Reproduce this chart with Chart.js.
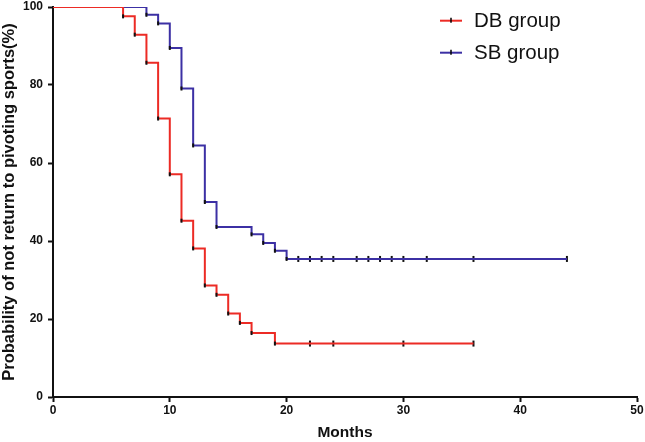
<!DOCTYPE html>
<html>
<head>
<meta charset="utf-8">
<script src="https://cdn.jsdelivr.net/npm/chart.js@4.4.1/dist/chart.umd.min.js"></script>
<style>
  html,body{margin:0;padding:0;background:#fff;}
  #wrap{width:645px;height:442px;position:relative;}
</style>
</head>
<body>
<div id="wrap"><canvas id="kmChart" width="645" height="442"></canvas></div>
<script>
// Kaplan-Meier data (months, % not returned)
const dbTimes  = [0, 6, 7, 8, 9, 10, 11, 12, 13, 14, 15, 16, 17, 19, 36];
const dbSurv   = [100, 97.6, 92.9, 85.7, 71.4, 57.1, 45.2, 38.1, 28.6, 26.2, 21.4, 19.0, 16.4, 13.7, 13.7];
const dbCensor = [22, 24, 30, 36];

const sbTimes  = [0, 8, 9, 10, 11, 12, 13, 14, 17, 18, 19, 20, 44];
const sbSurv   = [100, 98.0, 95.8, 89.5, 79.1, 64.5, 50.0, 43.6, 41.7, 39.5, 37.5, 35.4, 35.4];
const sbCensor = [21, 22, 23, 24, 26, 27, 28, 29, 30, 32, 36, 44];

const xTicks = [0, 10, 20, 30, 40, 50];
const yTicks = [0, 20, 40, 60, 80, 100];
const groupNames = ['DB group', 'SB group'];

const RED = '#ec2b25', BLUE = '#3c30a4';

function pts(times, vals){ return times.map((t,i)=>({x:t, y:vals[i]})); }
function censorPts(cens, times, vals){
  // censored subject sits on the current level of the curve
  return cens.map(c=>{
    let v = vals[0];
    for(let i=0;i<times.length;i++){ if(times[i]<=c) v = vals[i]; }
    return {x:c, y:v};
  });
}
function stepRadius(n){ return ctx => (ctx.dataIndex===0 || ctx.dataIndex===n-1) ? 0 : 2; }

const tickFont = {family:"'Liberation Sans',Arial,sans-serif", size:12, weight:'bold'};

// legend drawn top right like the original
const kmLegend = {
  id:'kmLegend',
  afterDraw(chart){
    const c = chart.ctx;
    const cols = [RED, BLUE];
    c.save();
    groupNames.forEach((name,i)=>{
      const y = 20.7 + i*32;
      c.strokeStyle = cols[i]; c.lineWidth = 2;
      c.beginPath(); c.moveTo(440,y); c.lineTo(462,y); c.stroke();
      c.strokeStyle = '#000'; c.lineWidth = 1.5;
      c.beginPath(); c.moveTo(451,y-3); c.lineTo(451,y+2); c.stroke();
      c.fillStyle = '#111';
      c.font = "20.5px 'Liberation Sans',Arial,sans-serif";
      c.textBaseline = 'middle';
      c.fillText(name, 474, y+1);
    });
    c.restore();
  }
};

new Chart(document.getElementById('kmChart').getContext('2d'),{
  type:'line',
  data:{
    datasets:[
      {label:groupNames[0], data:pts(dbTimes,dbSurv), stepped:'before', borderColor:RED, borderWidth:2,
       pointStyle:'line', rotation:90, pointRadius:stepRadius(dbTimes.length), pointBorderColor:'#111', pointBorderWidth:2},
      {label:groupNames[1], data:pts(sbTimes,sbSurv), stepped:'before', borderColor:BLUE, borderWidth:2,
       pointStyle:'line', rotation:90, pointRadius:stepRadius(sbTimes.length), pointBorderColor:'#111', pointBorderWidth:2},
      {label:'DB censored', data:censorPts(dbCensor,dbTimes,dbSurv), showLine:false,
       pointStyle:'line', rotation:90, pointRadius:3, pointBorderColor:'#111', pointBorderWidth:2},
      {label:'SB censored', data:censorPts(sbCensor,sbTimes,sbSurv), showLine:false,
       pointStyle:'line', rotation:90, pointRadius:3, pointBorderColor:'#111', pointBorderWidth:2}
    ]
  },
  options:{
    responsive:false,
    animation:false,
    layout:{padding:{top:0, right:8, bottom:0, left:0}},
    plugins:{legend:{display:false}, tooltip:{enabled:false}},
    scales:{
      x:{
        type:'linear', min:0, max:50,
        afterBuildTicks: s => { s.ticks = xTicks.map(v=>({value:v})); },
        afterFit: s => { s.height = 45; },
        grid:{drawOnChartArea:false, tickLength:5, tickColor:'#111', tickWidth:2},
        border:{color:'#111', width:2},
        ticks:{color:'#111', font:tickFont, padding:1, maxRotation:0},
        title:{display:true, text:'Months', color:'#111',
               font:{family:"'Liberation Sans',Arial,sans-serif", size:15.5, weight:'bold'}, padding:0}
      },
      y:{
        min:0, max:100,
        afterBuildTicks: s => { s.ticks = yTicks.map(v=>({value:v})); },
        afterFit: s => { s.width = 53; s.paddingTop = 7; },
        grid:{drawOnChartArea:false, tickLength:5, tickColor:'#111', tickWidth:2},
        border:{color:'#111', width:2},
        ticks:{color:'#111', font:tickFont, padding:5},
        title:{display:true, text:'Probability of not return to pivoting sports(%)', color:'#111',
               font:{family:"'Liberation Sans',Arial,sans-serif", size:16.5, weight:'bold'}, padding:{top:0,bottom:0}}
      }
    }
  },
  plugins:[kmLegend]
});
</script>
</body>
</html>
